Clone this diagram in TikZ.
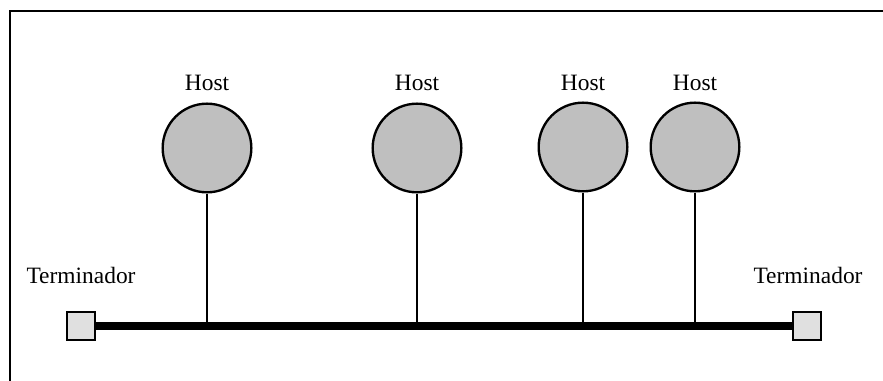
\documentclass[tikz,border=0pt]{standalone}
\usepackage{fontspec}
\setmainfont{Liberation Serif}
\usetikzlibrary{positioning}
\begin{document}
\begin{tikzpicture}[x=0.015cm, y=-0.015cm, every node/.style={font=\normalsize},
    host/.style={draw, circle, line width=1pt, fill=black!25, minimum size=1.33cm, inner sep=0pt},
    term/.style={draw, rectangle, line width=0.95pt, fill=black!12, minimum width=0.43cm, minimum height=0.42cm, inner sep=0pt},
    bus/.style={line width=3pt},
    drop/.style={line width=0.55pt}]
    \useasboundingbox (0,0) rectangle (883,381);
    \draw[line width=0.65pt] (10,381) -- (10,11) -- (883,11);
    % hosts
    \node[host] (h1) at (207,148) {};
    \node[host] (h2) at (417,148) {};
    \node[host] (h3) at (583,147) {};
    \node[host] (h4) at (695,147) {};
    \node (l1) at (207,83) {Host};
    \node (l2) at (417,83) {Host};
    \node (l3) at (583,83) {Host};
    \node (l4) at (695,83) {Host};
    % terminadores
    \node[term] (tl) at (81,326) {};
    \node[term] (tr) at (807,326) {};
    \node (tll) at (81,275) {Terminador};
    \node (trl) at (808,275) {Terminador};
    \draw[bus] (tl.east) -- (tr.west);
    \draw[drop] (h1.south) -- (h1.south |- tl.east);
    \draw[drop] (h2.south) -- (h2.south |- tl.east);
    \draw[drop] (h3.south) -- (h3.south |- tl.east);
    \draw[drop] (h4.south) -- (h4.south |- tl.east);
\end{tikzpicture}
\end{document}
